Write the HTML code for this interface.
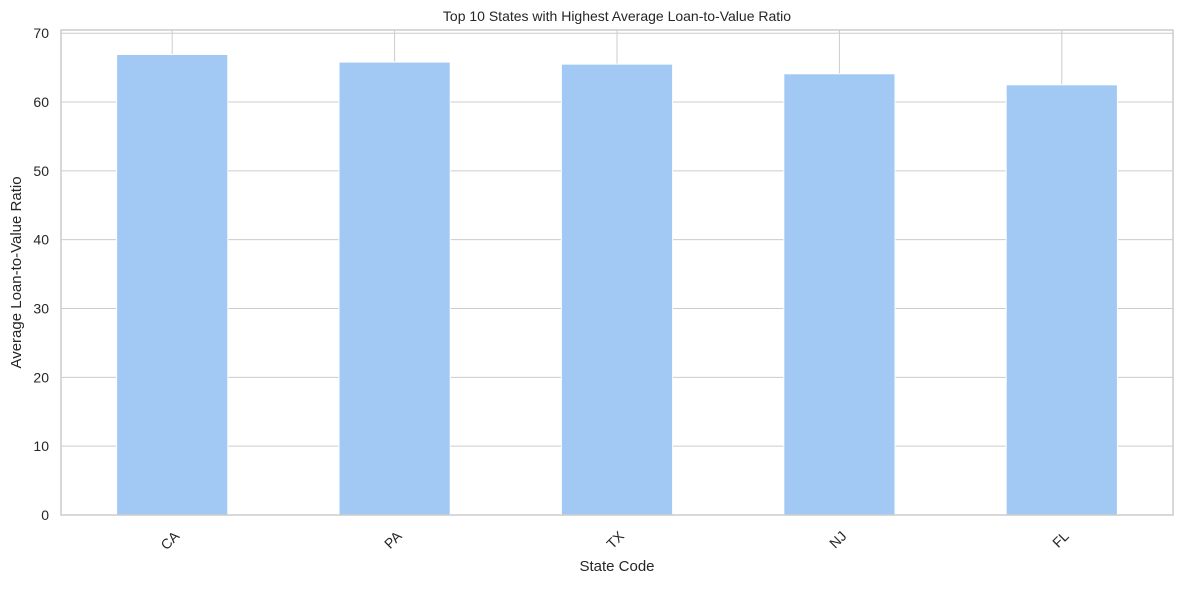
<!DOCTYPE html>
<html><head><meta charset="utf-8"><style>
body{margin:0;background:#fff;font-family:"Liberation Sans","DejaVu Sans",sans-serif;}
</style></head><body>
<svg id="chart" width="1184" height="584" xmlns="http://www.w3.org/2000/svg" font-family="Liberation Sans, DejaVu Sans, sans-serif"></svg>
<script>
const categories = ["CA","PA","TX","NJ","FL"];
const values = [66.9, 65.8, 65.5, 64.1, 62.5];
const yTicks = [0,10,20,30,40,50,60,70];
const NS="http://www.w3.org/2000/svg";
const svg=document.getElementById('chart');
const L=61,R=1173,T=30,B=515;
const yMin=0,yMax=70.4;
function y(v){return 515-(v-0)*6.883;}
function x(i){return L+(i+0.5)*(R-L)/categories.length;}
function mk(tag,attrs,parent){const e=document.createElementNS(NS,tag);for(const k in attrs)e.setAttribute(k,attrs[k]);(parent||svg).appendChild(e);return e;}
// grid
yTicks.forEach(t=>{
  const g=mk('line',{x1:L,x2:R,y1:y(t),y2:y(t),stroke:'#cccccc','stroke-width':1});
  
  
  const tx=mk('text',{x:L-12,y:y(t)+5,'text-anchor':'end','font-size':14,fill:'#262626'});
  tx.textContent=t;
  
  
});
categories.forEach((c,i)=>{
  const g=mk('line',{x1:x(i),x2:x(i),y1:T,y2:B,stroke:'#cccccc','stroke-width':1});
  
  
});
const bw=(R-L)/categories.length*0.5;
categories.forEach((c,i)=>{
  const r=mk('rect',{x:x(i)-bw/2,y:y(values[i]),width:bw,height:y(0)-y(values[i]),fill:'#a1c9f4',stroke:'#ffffff','stroke-width':1});
  
  
  const tx=mk('text',{x:0,y:0,'text-anchor':'end','font-size':14,fill:'#262626',transform:`translate(${x(i)+8},${B+22}) rotate(-45)`});
  tx.textContent=c;
  
  
});
const fr=mk('rect',{x:L,y:T,width:R-L,height:B-T,fill:'none',stroke:'#cccccc','stroke-width':1.5});


const ti=mk('text',{x:(L+R)/2,y:21,'text-anchor':'middle','font-size':14,fill:'#262626'});
ti.textContent='Top 10 States with Highest Average Loan-to-Value Ratio';


const xl=mk('text',{x:(L+R)/2,y:571,'text-anchor':'middle','font-size':15,fill:'#262626'});
xl.textContent='State Code';


const yl=mk('text',{x:0,y:0,'text-anchor':'middle','font-size':15,fill:'#262626',transform:`translate(21,${(T+B)/2}) rotate(-90)`});
yl.textContent='Average Loan-to-Value Ratio';


</script>
</body></html>
